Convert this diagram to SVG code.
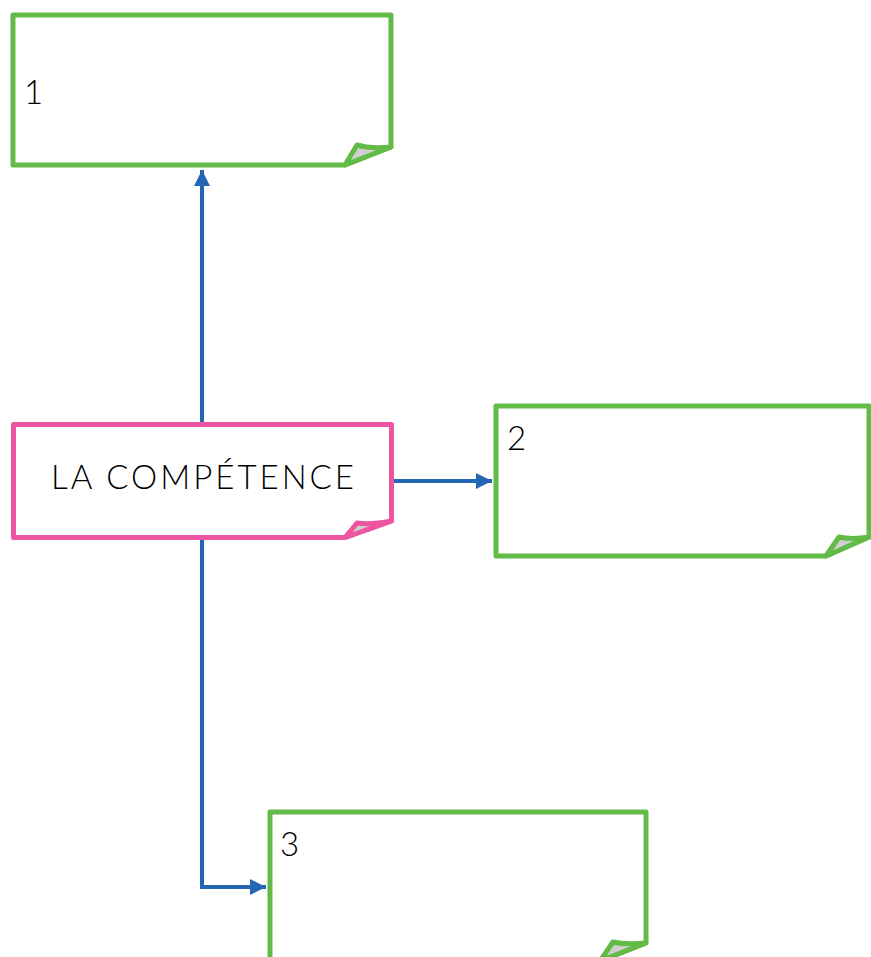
<svg xmlns="http://www.w3.org/2000/svg" width="871" height="957" viewBox="0 0 871 957">
<style>
.box{fill:#fff;stroke-width:5;stroke-linejoin:round}
.g{stroke:#62BB46}
.p{stroke:#EE55A0}
.flap{fill:#d0d0d0;stroke-width:5;stroke-linejoin:round}
.lbl{font-family:Lato,"Open Sans","Liberation Sans",sans-serif;font-weight:300;font-size:33px;fill:#000}
.con{fill:none;stroke:#2366B4;stroke-width:4}
</style>
<defs>
<marker id="ah" markerUnits="userSpaceOnUse" markerWidth="16" markerHeight="16" refX="16" refY="8" orient="auto">
<path d="M0,0 L16,8 L0,16 Z" fill="#2366B4"/>
</marker>
</defs>
<g id="connectors">
<path class="con" d="M202,424 V170" marker-end="url(#ah)"/>
<path class="con" d="M394,481 H492" marker-end="url(#ah)"/>
<path class="con" d="M202,540 V887 H266" marker-end="url(#ah)"/>
</g>
<g id="node1">
<path class="box g" d="M13,15 H391 V147 L345,165 H13 Z"/>
<path class="flap g" d="M345,165 L357,145 Q370,149 391,147 Z"/>
<text class="lbl" x="24" y="104">1</text>
</g>
<g id="node-center">
<path class="box p" d="M13.5,424.5 H391.5 V521 L345,537.5 H13.5 Z"/>
<path class="flap p" d="M345,537.5 L357,523 Q370,525 391.5,521 Z"/>
<text class="lbl" x="204" y="489" text-anchor="middle" letter-spacing="3">LA COMPÉTENCE</text>
</g>
<g id="node2">
<path class="box g" d="M496,406 H869 V537 L826,556 H496 Z"/>
<path class="flap g" d="M826,556 L839,537 Q852,540 869,537 Z"/>
<text class="lbl" x="507" y="450">2</text>
</g>
<g id="node3">
<path class="box g" d="M270,812 H646 V943 L600,961 H270 Z"/>
<path class="flap g" d="M600,961 L613,942 Q626,945 646,943 Z"/>
<text class="lbl" x="280" y="856">3</text>
</g>
</svg>
